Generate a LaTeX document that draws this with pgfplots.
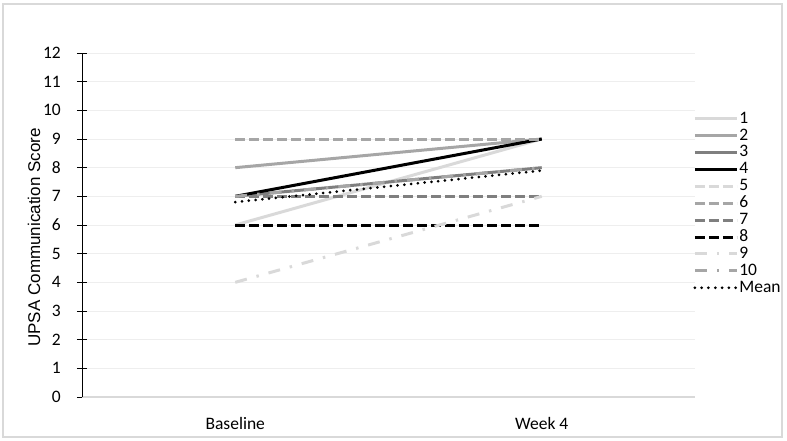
\documentclass[border=0pt]{standalone}
\usepackage{fontspec}
\setmainfont{Carlito}
\newfontfamily\arialfont{Liberation Sans}
\usepackage{pgfplots}
\pgfplotsset{compat=1.18}
\definecolor{g1}{HTML}{D9D9D9}
\definecolor{g2}{HTML}{A6A6A6}
\definecolor{g3}{HTML}{7F7F7F}
\definecolor{gridc}{HTML}{EEEEEE}
\definecolor{framec}{HTML}{D9D9D9}
\tikzset{
  ln/.style={line width=3pt},
  dsh/.style={line width=3pt,dash pattern=on 10pt off 4pt},
  ddot/.style={line width=3pt,dash pattern=on 12pt off 10pt on 2.5pt off 10pt},
}

\begin{document}
\begin{tikzpicture}
\path[use as bounding box] (-82pt,-43pt) rectangle (705pt,397pt);
\draw[framec,line width=1.2pt] (-79pt,-40pt) rectangle (700pt,393pt);
\begin{axis}[
  at={(0pt,0pt)},anchor=south west,
  scale only axis,width=613pt,height=344pt,
  xmin=-0.5,xmax=1.5,ymin=0,ymax=12,
  ytick={0,...,12},xtick={0,1},xticklabels={Baseline,Week 4},
  axis x line*=bottom,axis y line*=left,
  x axis line style={framec,line width=2pt},
  y axis line style={black,line width=0.8pt},
  xtick style={draw=none},
  ytick style={black,line width=0.8pt},
  major tick length=10pt,tick align=center,
  ymajorgrids,major grid style={gridc,line width=1pt},
  /pgf/number format/assume math mode=true,
  ticklabel style={font=\fontsize{17.5}{20}\selectfont},
  yticklabel style={anchor=east,inner sep=0pt,xshift=-16pt},
  xticklabel style={anchor=north,inner sep=0pt,yshift=-15pt},
  ylabel={\arialfont UPSA Communication Score},
  ylabel style={font=\fontsize{17}{20}\selectfont,at={(axis description cs:-0.0783,0.4637)},anchor=center},
  legend cell align=left,
  legend image code/.code={\draw[#1] (0pt,0pt) -- (42pt,0pt);},
  legend style={draw=none,fill=none,at={(axis description cs:0.997,0.834)},anchor=north west,
    font=\fontsize{17.5}{17}\selectfont,row sep=0pt,inner sep=0pt,
    nodes={inner sep=1pt,text height=11.8pt,text depth=3.1pt}},
]
\addplot[g1,ln] coordinates {(0,6) (1,9)};
\addlegendentry{1}
\addplot[g2,ln] coordinates {(0,8) (1,9)};
\addlegendentry{2}
\addplot[g3,ln] coordinates {(0,7) (1,8)};
\addlegendentry{3}
\addplot[black,ln] coordinates {(0,7) (1,9)};
\addlegendentry{4}
\addplot[g1,dsh] coordinates {(0,7) (1,7)};
\addlegendentry{5}
\addplot[g2,dsh] coordinates {(0,9) (1,9)};
\addlegendentry{6}
\addplot[g3,dsh] coordinates {(0,7) (1,7)};
\addlegendentry{7}
\addplot[black,dsh] coordinates {(0,6) (1,6)};
\addlegendentry{8}
\addplot[g1,ddot] coordinates {(0,4) (1,7)};
\addlegendentry{9}
\addplot[g2,ddot] coordinates {(0,7) (1,8)};
\addlegendentry{10}
\addplot[black,line width=3pt,line cap=round,dash pattern=on 0pt off 6.8pt] coordinates {(0,6.8) (1,7.9)};
\addlegendentry{Mean}
\end{axis}
\end{tikzpicture}
\end{document}
